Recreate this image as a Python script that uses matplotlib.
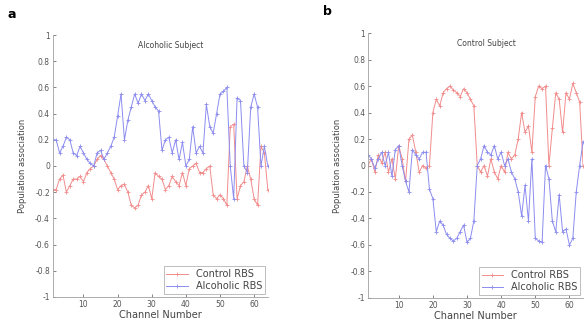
import matplotlib.pyplot as plt
import numpy as np

# Channel numbers
channels = np.arange(1, 65)

# Panel a: Alcoholic Subject
alc_subj_control_rbs = [-0.18, -0.18, -0.10, -0.07, -0.20, -0.15, -0.10, -0.10, -0.08, -0.12,
                        -0.05, -0.02, 0.00, 0.05, 0.08, 0.05, 0.00, -0.05, -0.10, -0.18,
                        -0.15, -0.14, -0.20, -0.30, -0.32, -0.30, -0.22, -0.20, -0.15, -0.25,
                        -0.05, -0.08, -0.10, -0.18, -0.15, -0.08, -0.12, -0.15, -0.05, -0.15,
                        -0.02, 0.00, 0.02, -0.05, -0.05, -0.02, 0.00, -0.22, -0.25, -0.22,
                        -0.25, -0.30, 0.30, 0.32, -0.25, -0.15, -0.12, 0.00, -0.10, -0.25,
                        -0.30, 0.15, 0.10, -0.18]
alc_subj_alcoholic_rbs = [0.20, 0.20, 0.10, 0.15, 0.22, 0.20, 0.10, 0.08, 0.15, 0.10,
                          0.05, 0.02, 0.00, 0.10, 0.12, 0.05, 0.10, 0.15, 0.22, 0.38,
                          0.55, 0.20, 0.35, 0.45, 0.55, 0.48, 0.55, 0.50, 0.55, 0.50,
                          0.45, 0.42, 0.12, 0.20, 0.22, 0.10, 0.20, 0.05, 0.18, 0.00,
                          0.05, 0.30, 0.10, 0.15, 0.10, 0.47, 0.30, 0.25, 0.40, 0.55,
                          0.57, 0.60, 0.00, -0.25, 0.52, 0.50, 0.00, -0.05, 0.45, 0.55,
                          0.45, 0.00, 0.15, 0.00]

# Panel b: Control Subject
ctl_subj_control_rbs = [0.00, 0.05, -0.05, 0.08, 0.02, 0.10, -0.05, 0.05, -0.10, 0.15,
                        0.05, -0.12, 0.20, 0.23, 0.10, -0.05, 0.00, -0.02, 0.00, 0.40,
                        0.50, 0.45, 0.55, 0.58, 0.60, 0.57, 0.55, 0.52, 0.58, 0.55,
                        0.50, 0.45, 0.00, -0.05, 0.00, -0.08, 0.05, -0.05, -0.10, 0.00,
                        -0.05, 0.10, 0.05, 0.08, 0.20, 0.40, 0.25, 0.30, 0.10, 0.52,
                        0.60, 0.58, 0.60, 0.00, 0.28, 0.55, 0.50, 0.25, 0.55, 0.50,
                        0.62, 0.55, 0.48, 0.00]
ctl_subj_alcoholic_rbs = [0.08, 0.05, -0.02, 0.05, 0.10, 0.00, 0.10, -0.08, 0.12, 0.15,
                          0.00, -0.12, -0.20, 0.12, 0.08, 0.05, 0.10, 0.10, -0.18, -0.25,
                          -0.50, -0.42, -0.45, -0.52, -0.55, -0.57, -0.55, -0.50, -0.45, -0.58,
                          -0.55, -0.42, 0.00, 0.05, 0.15, 0.10, 0.08, 0.15, 0.05, 0.10,
                          0.00, 0.05, -0.05, -0.10, -0.20, -0.38, -0.15, -0.42, 0.05, -0.55,
                          -0.57, -0.58, 0.00, -0.10, -0.42, -0.50, -0.22, -0.50, -0.48, -0.60,
                          -0.55, -0.20, 0.00, 0.18]

yticks = np.round(np.arange(-1, 1.01, 0.2), 1)
ytick_labels = ["%g" % (v + 0.0) for v in yticks]  # + 0.0 avoids "-0"
xticks = [10, 20, 30, 40, 50, 60]

red = "#f28c8c"
blue = "#8c8cf0"
grey = "#a0a0a0"

fig = plt.figure(figsize=(5.86, 3.31), dpi=100)
ax_a = fig.add_axes([0.090, 0.103, 0.367, 0.791])
ax_b = fig.add_axes([0.628, 0.100, 0.367, 0.800])

panels = [
    (ax_a, alc_subj_control_rbs, alc_subj_alcoholic_rbs, "Alcoholic Subject", "a"),
    (ax_b, ctl_subj_control_rbs, ctl_subj_alcoholic_rbs, "Control Subject", "b"),
]

for ax, ctl, alc, title, letter in panels:
    ax.plot(channels, ctl, color=red, lw=0.7, marker="+", ms=3, mew=0.6, label="Control RBS")
    ax.plot(channels, alc, color=blue, lw=0.7, marker="+", ms=3, mew=0.6, label="Alcoholic RBS")
    ax.set_xlim(1, 64)
    ax.set_ylim(-1, 1)
    ax.set_xticks(xticks)
    ax.set_yticks(yticks)
    ax.set_yticklabels(ytick_labels)
    ax.tick_params(direction="in", length=2, width=0.5, labelsize=5.5, colors="#555555", pad=2)
    for side in ["top", "right"]:
        ax.spines[side].set_visible(False)
    for side in ["left", "bottom"]:
        ax.spines[side].set_color(grey)
        ax.spines[side].set_linewidth(0.6)
    ax.text(0.55, 0.96, title, transform=ax.transAxes, ha="center", va="center",
            fontsize=5.5, color="#444444")
    ax.set_xlabel("Channel Number", fontsize=7, color="#444444", labelpad=1)
    ax.set_ylabel("Population association", fontsize=6, color="#444444", labelpad=6)
    leg = ax.legend(loc="lower right", fontsize=7, frameon=True, fancybox=False,
                    handlelength=2.2, borderpad=0.3, labelspacing=0.2, borderaxespad=0.3)
    leg.get_frame().set_edgecolor(grey)
    leg.get_frame().set_linewidth(0.6)
    for t in leg.get_texts():
        t.set_color("#444444")
    ax.text(-0.19, 1.08, letter, transform=ax.transAxes, fontsize=9, fontweight="bold",
            ha="center", va="center")

fig.savefig("out.png", dpi=100)
